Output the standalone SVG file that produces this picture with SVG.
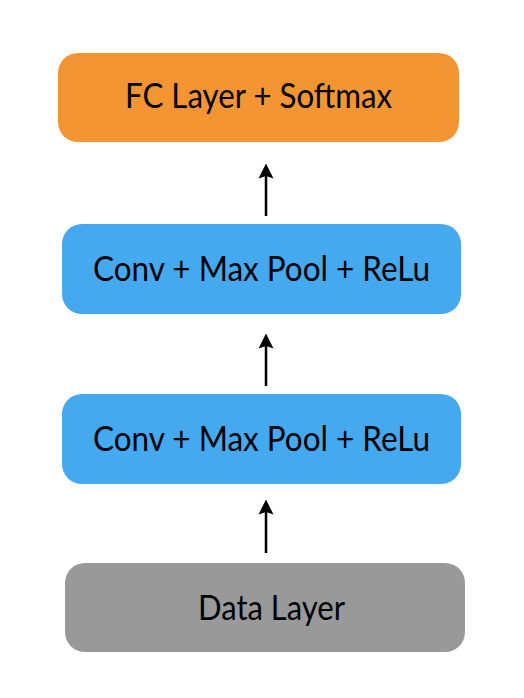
<svg xmlns="http://www.w3.org/2000/svg" width="524" height="698" viewBox="0 0 524 698">
<style>
.lbl{font-family:Lato,"Open Sans","Liberation Sans",sans-serif;font-size:34px;fill:#000;text-anchor:middle}
.conn{stroke:#000;stroke-width:2.5;fill:none;marker-end:url(#ah)}
</style>
<defs>
<marker id="ah" markerWidth="6" markerHeight="7" refX="3.5" refY="3.5" orient="auto" markerUnits="strokeWidth" viewBox="0 0 7 7">
<path d="M0,0 L7,3.5 L0,7 L1.2,3.5 z" fill="#000"/>
</marker>
</defs>
<rect width="524" height="698" fill="#fff"/>
<g id="fc">
<rect x="58" y="53" width="401" height="89" rx="20" fill="#F39532"/>
<text class="lbl" x="258.5" y="108" textLength="267" lengthAdjust="spacingAndGlyphs">FC Layer + Softmax</text>
</g>
<g id="conv1">
<rect x="62" y="224" width="399" height="90" rx="20" fill="#45A9F0"/>
<text class="lbl" x="261.5" y="281" textLength="337" lengthAdjust="spacingAndGlyphs">Conv + Max Pool + ReLu</text>
</g>
<g id="conv2">
<rect x="62" y="394" width="399" height="90" rx="20" fill="#45A9F0"/>
<text class="lbl" x="261.5" y="451" textLength="337" lengthAdjust="spacingAndGlyphs">Conv + Max Pool + ReLu</text>
</g>
<g id="data">
<rect x="65" y="563" width="400" height="89" rx="20" fill="#999999"/>
<text class="lbl" x="271.5" y="620" textLength="147" lengthAdjust="spacingAndGlyphs">Data Layer</text>
</g>
<g id="connectors">
<line class="conn" x1="266" y1="553" x2="266" y2="507"/>
<line class="conn" x1="266" y1="386" x2="266" y2="341"/>
<line class="conn" x1="266" y1="216" x2="266" y2="171"/>
</g>
</svg>
